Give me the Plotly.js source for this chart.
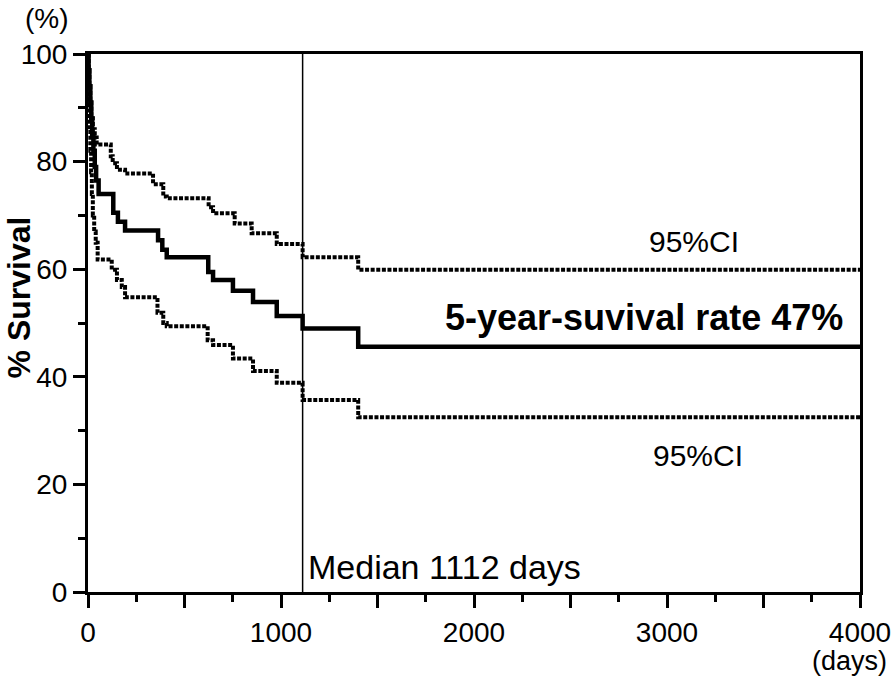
<!DOCTYPE html>
<html>
<head>
<meta charset="utf-8">
<script src="https://cdn.plot.ly/plotly-3.0.1.min.js"></script>
<style>html,body{margin:0;padding:0;background:#fff;}#chart{width:896px;height:678px;}</style>
</head>
<body>
<div id="chart"></div>
<script>
// Kaplan-Meier survival estimate (days, % survival)
const survDays = [0,3,7,12,17,22,28,35,42,55,131,155,192,363,385,408,623,648,751,855,978,1112,1400,4000];
const survPct  = [100,97,94,91,88,85,82,79,76.5,74,70.5,68.8,67.2,65.4,63.6,62.2,59.5,58.0,56.0,53.9,51.3,49.0,45.6,45.6];

// Upper 95% confidence limit
const upperDays = [0,3,7,12,17,25,35,45,118,128,150,192,337,390,408,625,648,760,848,978,1112,1400,4000];
const upperPct  = [100,97,94,91,88.5,86,84.5,83.2,81,79.7,78.5,77.8,75.8,73.5,73.2,71.5,70.4,68.5,66.7,64.7,62.2,59.9,59.9];

// Lower 95% confidence limit
const lowerDays = [0,2,5,8,12,16,20,25,32,40,50,123,150,175,192,360,390,408,620,648,751,855,978,1112,1400,4000];
const lowerPct  = [100,95,90,86,82,78,74,70,67,64.9,61.8,59.9,58.0,56.7,54.8,51.9,50.0,49.4,46.8,45.9,43.4,41.1,38.9,35.7,32.5,32.5];

const medianDays = 1112;

const xTickVals = [0,500,1000,1500,2000,2500,3000,3500,4000];
const xTickText = ['0','','1000','','2000','','3000','','4000'];
const yTickVals = [0,20,40,60,80,100];
const yTickText = ['0','20','40','60','80','100'];

const labels = {
  upperCI: '95%CI',
  lowerCI: '95%CI',
  rate: '5-year-suvival rate 47%',
  median: 'Median ' + medianDays + ' days',
  yTitle: '% Survival',
  yUnit: '(%)',
  xUnit: '(days)'
};

const FONT = 'Liberation Sans, Arial, Helvetica, sans-serif';

const traces = [
  {x: upperDays, y: upperPct, type: 'scatter', mode: 'lines', line: {shape: 'hv', color: '#000', width: 4, dash: '4px,1.6px'}, hoverinfo: 'skip'},
  {x: lowerDays, y: lowerPct, type: 'scatter', mode: 'lines', line: {shape: 'hv', color: '#000', width: 4, dash: '4px,1.6px'}, hoverinfo: 'skip'},
  {x: survDays, y: survPct, type: 'scatter', mode: 'lines', line: {shape: 'hv', color: '#000', width: 4.5}, hoverinfo: 'skip'},
  {x: [medianDays, medianDays], y: [0, 100], type: 'scatter', mode: 'lines', line: {color: '#000', width: 1.5}, hoverinfo: 'skip'}
];

const layout = {
  width: 896, height: 678,
  margin: {l: 88, r: 36, t: 54, b: 86},
  paper_bgcolor: '#fff', plot_bgcolor: '#fff',
  showlegend: false,
  font: {family: FONT, color: '#000', size: 28},
  xaxis: {
    range: [0, 4000], showgrid: false, zeroline: false,
    showline: true, linecolor: '#000', linewidth: 3, mirror: true,
    ticks: 'outside', ticklen: 13, tickwidth: 3, tickcolor: '#000',
    tickmode: 'array', tickvals: xTickVals, ticktext: xTickText,
    tickfont: {family: FONT, size: 28, color: '#000'},
    minor: {ticks: 'outside', ticklen: 7, tickwidth: 3, tickcolor: '#000', dtick: 250, showgrid: false}
  },
  yaxis: {
    range: [0, 100], showgrid: false, zeroline: false,
    showline: true, linecolor: '#000', linewidth: 3, mirror: true,
    ticks: 'outside', ticklen: 12, tickwidth: 3, tickcolor: '#000',
    tickmode: 'array', tickvals: yTickVals, ticktext: yTickText,
    tickfont: {family: FONT, size: 28, color: '#000'},
    minor: {ticks: 'outside', ticklen: 7, tickwidth: 3, tickcolor: '#000', dtick: 10, showgrid: false}
  },
  annotations: [
    {xref: 'x', yref: 'y', x: 3140, y: 65.1, text: labels.upperCI, showarrow: false, xanchor: 'center', yanchor: 'middle', font: {family: FONT, size: 30, color: '#000'}},
    {xref: 'x', yref: 'y', x: 3160, y: 25.4, text: labels.lowerCI, showarrow: false, xanchor: 'center', yanchor: 'middle', font: {family: FONT, size: 30, color: '#000'}},
    {xref: 'x', yref: 'y', x: 3920, y: 51.0, text: '<b>' + labels.rate + '</b>', showarrow: false, xanchor: 'right', yanchor: 'middle', font: {family: FONT, size: 36, color: '#000'}},
    {xref: 'x', yref: 'y', x: 1130, y: 4.6, text: labels.median, showarrow: false, xanchor: 'left', yanchor: 'middle', font: {family: FONT, size: 34, color: '#000'}},
    {xref: 'paper', yref: 'paper', x: -0.089, y: 0.548, text: '<b>' + labels.yTitle + '</b>', textangle: -90, showarrow: false, xanchor: 'center', yanchor: 'middle', font: {family: FONT, size: 32, color: '#000'}},
    {xref: 'paper', yref: 'paper', x: -0.053, y: 1.066, text: labels.yUnit, showarrow: false, xanchor: 'center', yanchor: 'middle', font: {family: FONT, size: 28, color: '#000'}},
    {xref: 'paper', yref: 'paper', x: 0.986, y: -0.128, text: labels.xUnit, showarrow: false, xanchor: 'center', yanchor: 'middle', font: {family: FONT, size: 27, color: '#000'}}
  ]
};

Plotly.newPlot('chart', traces, layout, {staticPlot: true, displayModeBar: false});
</script>
</body>
</html>
